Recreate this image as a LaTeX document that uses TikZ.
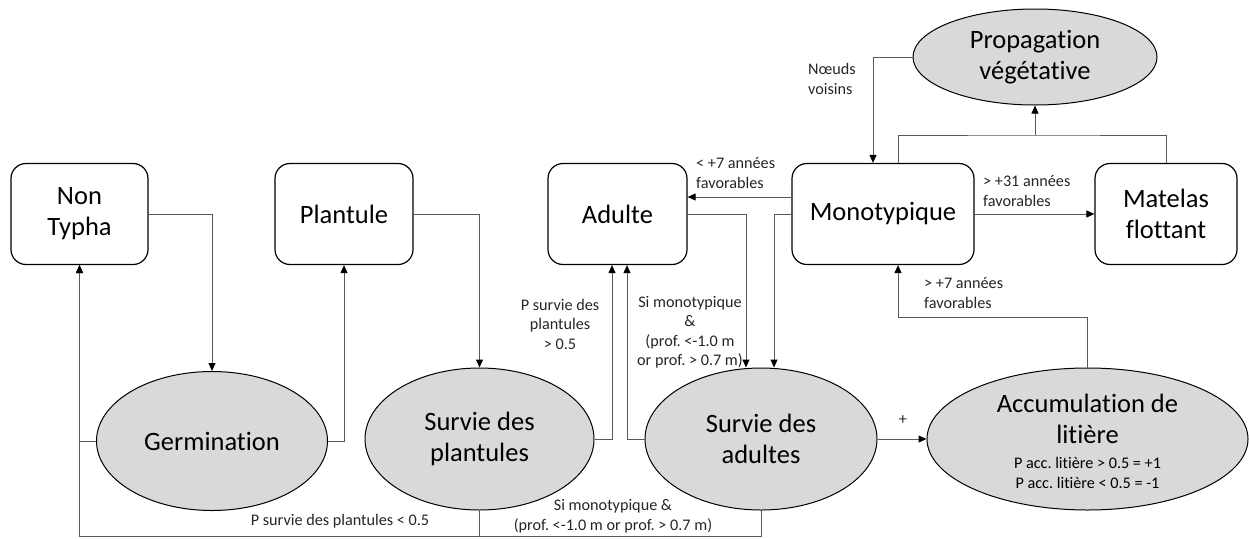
\documentclass[tikz,border=0pt]{standalone}
\usepackage{fontspec}
\setmainfont{Carlito}[Ligatures=NoCommon]
\usetikzlibrary{shapes.geometric,arrows.meta,calc}

\newcommand\stagefont{\fontsize{26.5}{31}\selectfont}
\newcommand\notefont{\fontsize{16.2}{19.5}\selectfont}
\frenchspacing

\tikzset{
  stagebox/.style={draw=black, line width=1.2pt, rounded corners=15pt,
    minimum height=101pt, inner sep=0pt, align=center, font=\stagefont},
  process/.style={ellipse, draw=black, line width=1pt, fill=gray!30,
    inner sep=0pt, align=center, font=\stagefont},
  link/.style={draw=black!65, line width=1pt},
  flow/.style={link, -{Triangle[length=8pt,width=7pt,color=black]}},
  note/.style={font=\notefont, text=black!85, inner sep=0pt, align=center},
  leftnote/.style={note, align=left, anchor=west},
}

\begin{document}
\begin{tikzpicture}[x=1pt,y=-1pt]
\useasboundingbox (0,0) rectangle (1249,538);
\fill[white] (0,0) rectangle (1249,538);

% life stages
\node[stagebox, minimum width=137pt] (nontypha) at (79.5,214) {Non\\Typha};
\node[stagebox, minimum width=138pt] (plantule) at (344,214) {Plantule};
\node[stagebox, minimum width=139pt] (adulte) at (617.5,214) {Adulte};
\node[stagebox, minimum width=182pt] (mono) at (883,214) {Monotypique};
\node[stagebox, minimum width=142pt] (matelas) at (1166,214) {Matelas\\flottant};

% processes
\node[process, minimum width=231pt, minimum height=139pt] (germ) at (212,441) {Germination};
\node[process, minimum width=229pt, minimum height=142pt] (survp) at (479.5,439) {Survie des\\plantules};
\node[process, minimum width=232pt, minimum height=142pt] (surva) at (761,439) {Survie des\\adultes};
\node[process, minimum width=321pt, minimum height=142pt] (acc) at (1087.5,439) {};
\node[process, minimum width=244pt, minimum height=96pt] (prop) at (1035,57) {Propagation\\végétative};

% text inside the litter ellipse
\node[font=\stagefont, align=center, inner sep=0pt] (accname) at (1087.5,419) {Accumulation de\\litière};
\node[note, text=black, font=\fontsize{16.2}{20}\selectfont] (accrule) at (1087.5,473)
  {P acc. litière > 0.5 = +1\\P acc. litière < 0.5 = -1};

% junction points
\coordinate (merge) at (1035,135);
\coordinate (accturn) at (1087.5,317);
\coordinate (bottomleft) at (79.5,536.5);

% connectors
\draw[flow] (nontypha.east) -| (germ.north);
\draw[flow] (germ.west) -| (nontypha.south);
\draw[flow] (germ.east) -| (plantule.south);
\draw[flow] (plantule.east) -| (survp.north);
\draw[flow] (survp.east) -| ([xshift=-5.5pt]adulte.south);
\draw[flow] (surva.west) -| ([xshift=9.5pt]adulte.south);
\draw[flow] (adulte.east) -| ([xshift=-15pt]surva.north);
\draw[flow] (mono.west) -| ([xshift=13pt]surva.north);
\draw[flow] ([yshift=17pt]mono.west) -- ([yshift=17pt]adulte.east);
\draw[flow] (mono.east) -- (matelas.west);
\draw[link] ([xshift=15pt]mono.north) |- (merge) -| (matelas.north);
\draw[flow] (merge) -- (prop.south);
\draw[flow] (prop.west) -| ([xshift=-10pt]mono.north);
\draw[flow] (acc.north) -- (accturn) -| ([xshift=15pt]mono.south);
\draw[flow] (surva.east) -- (acc.west);
\draw[link] (surva.south) |- (bottomleft);
\draw[link] (survp.south) -- (survp.south |- bottomleft);
\draw[flow] (bottomleft) -- (nontypha.south);

% connector labels
\node[note] (lowps) at (340,521) {P survie des plantules < 0.5};
\node[note] (lowsa) at (613,516) {Si monotypique \&\\(prof. <-1.0 m or prof. > 0.7 m)};
\node[note] (highps) at (560,324) {P survie des\\plantules\\> 0.5};
\node[note] (monocond) at (690,332) {Si monotypique\\\&\\(prof. <-1.0 m\\or prof. > 0.7 m)};
\node[leftnote] (lt7) at (696,173) {< +7 années\\favorables};
\node[leftnote] (voisins) at (808,79) {Nœuds\\voisins};
\node[leftnote] (gt31) at (983,191) {> +31 années\\favorables};
\node[leftnote] (gt7) at (924,293) {> +7 années\\favorables};
\node[note] (plus) at (903,420) {+};
\end{tikzpicture}
\end{document}
